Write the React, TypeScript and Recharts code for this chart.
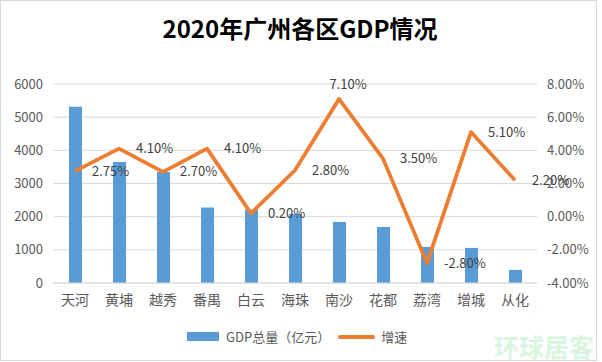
import { Bar, CartesianGrid, ComposedChart, LabelList, Line, XAxis, YAxis } from "recharts";

const districts = ["天河", "黄埔", "越秀", "番禺", "白云", "海珠", "南沙", "花都", "荔湾", "增城", "从化"];
const gdp = [5312, 3646, 3349, 2275, 2211, 2078, 1841, 1689, 1088, 1058, 395];
const growth = [2.75, 4.1, 2.7, 4.1, 0.2, 2.8, 7.1, 3.5, -2.8, 5.1, 2.2];
const leftTicks = [0, 1000, 2000, 3000, 4000, 5000, 6000];
const rightTicks = [-4, -2, 0, 2, 4, 6, 8];

const data = districts.map((name, i) => ({ name, gdp: gdp[i], growth: growth[i] }));

const FONT = '"Noto Sans CJK SC", "Noto Sans", sans-serif';

// labels sit right of the point, except the peak which Excel put above
const renderGrowthLabel = (props: any) => {
  const { x, y, value, index } = props;
  const text = `${Number(value).toFixed(2)}%`;
  if (index === 6) {
    return (
      <text x={x + 9} y={y - 10} textAnchor="middle" fontSize={13} fill="#404040" fontFamily={FONT}>
        {text}
      </text>
    );
  }
  return (
    <text x={x + 17} y={y} dy="0.35em" textAnchor="start" fontSize={13} fill="#404040" fontFamily={FONT}>
      {text}
    </text>
  );
};

export default function App() {
  return (
    <div style={{ position: "absolute", left: 0, top: 0, width: 602, height: 362, background: "#fff", fontFamily: FONT }}>
      <div
        style={{
          position: "absolute",
          left: 0,
          top: 0,
          width: 597,
          height: 361,
          border: "1px solid #d9d9d9",
          boxSizing: "border-box",
        }}
      />
      <div
        style={{
          position: "absolute",
          left: 0,
          top: 12,
          width: 600,
          textAlign: "center",
          fontSize: 24,
          fontWeight: 700,
          color: "#000",
          lineHeight: "32px",
        }}
      >
        2020年广州各区GDP情况
      </div>
      <ComposedChart
        width={602}
        height={362}
        data={data}
        margin={{ top: 84, right: 0, bottom: 49, left: 0 }}
        style={{ position: "absolute", left: 0, top: 0 }}
      >
        <CartesianGrid vertical={false} stroke="#d9d9d9" yAxisId="left" />
        <XAxis
          dataKey="name"
          height={30}
          axisLine={{ stroke: "#d9d9d9" }}
          tickLine={false}
          tickMargin={6}
          tick={{ fontSize: 14, fill: "#595959", fontFamily: FONT }}
        />
        <YAxis
          yAxisId="left"
          width={53}
          domain={[0, 6000]}
          ticks={leftTicks}
          axisLine={false}
          tickLine={false}
          tickMargin={4}
          tick={{ fontSize: 13, fill: "#595959", fontFamily: FONT }}
        />
        <YAxis
          yAxisId="right"
          orientation="right"
          width={65}
          domain={[-4, 8]}
          ticks={rightTicks}
          axisLine={false}
          tickLine={false}
          tickMargin={4}
          tickFormatter={(v: number) => `${v.toFixed(2)}%`}
          tick={{ fontSize: 13, fill: "#595959", fontFamily: FONT }}
        />
        <Bar yAxisId="left" dataKey="gdp" name="GDP总量（亿元）" fill="#5b9bd5" barSize={13} isAnimationActive={false} />
        <Line
          yAxisId="right"
          type="linear"
          dataKey="growth"
          name="增速"
          stroke="#ed7d31"
          strokeWidth={3.75}
          strokeLinejoin="round"
          dot={false}
          isAnimationActive={false}
        >
          <LabelList dataKey="growth" content={renderGrowthLabel} />
        </Line>
      </ComposedChart>
      <div style={{ position: "absolute", left: 187, top: 327, display: "flex", alignItems: "center", fontSize: 13, color: "#595959" }}>
        <span style={{ display: "inline-block", width: 32, height: 9, background: "#5b9bd5", marginRight: 7 }} />
        <span>GDP总量（亿元）</span>
        <span style={{ display: "inline-block", width: 37, height: 4, background: "#ed7d31", marginLeft: 8, marginRight: 6, borderRadius: 2 }} />
        <span>增速</span>
      </div>
      <div
        style={{
          position: "absolute",
          left: 494,
          top: 331,
          fontSize: 25,
          fontWeight: 700,
          color: "#d8f6df",
          lineHeight: "30px",
          whiteSpace: "nowrap",
        }}
      >
        环球居客
      </div>
    </div>
  );
}
